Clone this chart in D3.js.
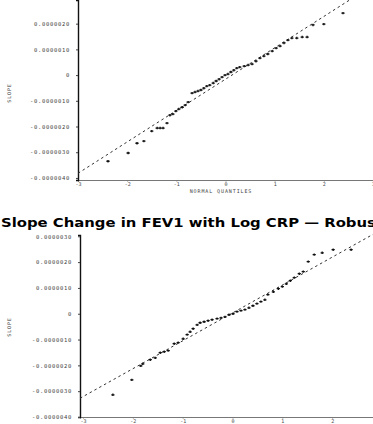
<!DOCTYPE html>
<html>
<head>
<meta charset="utf-8">
<script src="https://cdn.jsdelivr.net/npm/d3@7"></script>
<style>
  body { margin: 0; background: #fff; }
  svg { display: block; }
  .tick text { font-family: "DejaVu Sans Mono", monospace; }
</style>
</head>
<body>
<div id="chart"></div>
<script>
var WIDTH = 373
var HEIGHT = 424

// title between the two panels
var titleText = 'Slope Change in FEV1 with Log CRP \u2014 Robust';

// top panel: normal quantile vs slope (units of 1e-6)
var topQx = [-2.39, -1.98, -1.80, -1.66, -1.50, -1.39, -1.33, -1.27, -1.19, -1.13, -1.07, -1.01,
    -0.95, -0.88, -0.82, -0.76, -0.68, -0.62, -0.56, -0.50, -0.44, -0.38, -0.32, -0.25, -0.19,
    -0.13, -0.07, -0.01, 0.05, 0.11, 0.17, 0.23, 0.29, 0.38, 0.46, 0.54, 0.62, 0.70, 0.78, 0.86,
    0.95, 1.03, 1.11, 1.19, 1.27, 1.35, 1.45, 1.56, 1.66, 1.78, 2.00, 2.39];
var topQy = [-3.35, -3.03, -2.65, -2.57, -2.18, -2.06, -2.06, -2.06, -1.87, -1.56, -1.52, -1.40,
    -1.32, -1.25, -1.17, -1.05, -0.70, -0.66, -0.62, -0.58, -0.51, -0.43, -0.39, -0.31, -0.23,
    -0.16, -0.08, 0.00, 0.04, 0.12, 0.19, 0.27, 0.31, 0.35, 0.39, 0.43, 0.54, 0.66, 0.74, 0.82,
    0.93, 1.05, 1.13, 1.25, 1.36, 1.44, 1.44, 1.48, 1.48, 1.95, 1.98, 2.41];
var topLine = [-0.16, 1.22];   // intercept, slope
var topYTicks = [2, 1, 0, -1, -2, -3, -4];
var topYLabels = ['0.0000020', '0.0000010', '0', '-0.0000010', '-0.0000020', '-0.0000030', '-0.0000040'];

// bottom panel: robust fit
var botQx = [-2.40, -2.02, -1.84, -1.80, -1.65, -1.55, -1.45, -1.37, -1.29, -1.17, -1.09, -0.99,
    -0.91, -0.85, -0.79, -0.71, -0.65, -0.57, -0.49, -0.41, -0.31, -0.23, -0.15, -0.07, 0.01,
    0.09, 0.17, 0.25, 0.33, 0.41, 0.49, 0.57, 0.65, 0.71, 0.82, 0.92, 1.00, 1.08, 1.16, 1.24,
    1.34, 1.42, 1.52, 1.64, 1.80, 2.02, 2.38];
var botQy = [-3.14, -2.56, -2.02, -1.94, -1.78, -1.71, -1.51, -1.47, -1.43, -1.16, -1.12, -0.97,
    -0.81, -0.70, -0.58, -0.43, -0.35, -0.31, -0.27, -0.23, -0.19, -0.16, -0.12, -0.04, 0.00,
    0.08, 0.12, 0.16, 0.23, 0.31, 0.39, 0.47, 0.54, 0.74, 0.85, 0.97, 1.05, 1.16, 1.28, 1.40,
    1.55, 1.63, 2.02, 2.29, 2.36, 2.48, 2.48];
var botLine = [0.03, 1.08];
var botYTicks = [3, 2, 1, 0, -1, -2, -3, -4];
var botYLabels = ['0.0000030', '0.0000020', '0.0000010', '0', '-0.0000010', '-0.0000020', '-0.0000030', '-0.0000040'];

var xTicks = [-3, -2, -1, 0, 1, 2, 3];
var xLabels = ['-3', '-2', '-1', '0', '1', '2', '3'];

const svg = d3.select('#chart').append('svg')
    .attr('width', WIDTH)
    .attr('height', HEIGHT);

function drawPanel(opt) {
    var g = svg.append('g');
    var x = d3.scaleLinear().domain(opt.xDomain).range(opt.xRange);
    var y = d3.scaleLinear().domain(opt.yDomain).range(opt.yRange);

    g.append('clipPath').attr('id', opt.id + 'clip')
        .append('rect')
        .attr('x', opt.xRange[0]).attr('y', opt.yRange[1] - 6)
        .attr('width', WIDTH - opt.xRange[0]).attr('height', opt.yRange[0] - opt.yRange[1] + 6);

    // x axis
    var xAxis = g.append('g')
        .attr('transform', 'translate(0,' + opt.yRange[0] + ')')
        .call(d3.axisBottom(x).tickValues(xTicks)
            .tickFormat((d, i) => xLabels[i]).tickSize(1.5).tickPadding(1));
    xAxis.select('.domain').attr('stroke', '#777').attr('stroke-width', 1.2);
    xAxis.selectAll('.tick line').attr('stroke', '#777');
    xAxis.selectAll('.tick text').attr('font-size', 5).attr('fill', '#444');

    // y axis
    var yAxis = g.append('g')
        .attr('transform', 'translate(' + opt.xRange[0] + ',0)')
        .call(d3.axisLeft(y).tickValues(opt.yTicks)
            .tickFormat((d, i) => opt.yLabels[i]).tickSize(2).tickPadding(6));
    yAxis.select('.domain').attr('stroke', '#111').attr('stroke-width', 1.4);
    yAxis.selectAll('.tick line').attr('stroke', '#444');
    yAxis.selectAll('.tick text').attr('font-size', 5.5).attr('fill', '#444')
        .attr('letter-spacing', 0.7);

    // axis titles
    if (opt.xTitle) {
        g.append('text')
            .attr('x', 221).attr('y', opt.yRange[0] + 13)
            .attr('text-anchor', 'middle')
            .attr('font-family', 'DejaVu Sans Mono, monospace')
            .attr('font-size', 5).attr('letter-spacing', 0.9).attr('fill', '#444')
            .text('NORMAL QUANTILES');
    }
    g.append('text')
        .attr('transform', 'translate(' + 11 + ',' + opt.yLabelY + ') rotate(-90)')
        .attr('text-anchor', 'middle')
        .attr('font-family', 'DejaVu Sans Mono, monospace')
        .attr('font-size', 5).attr('letter-spacing', 0.9).attr('fill', '#444')
        .text('SLOPE');

    // reference line
    var plot = g.append('g').attr('clip-path', 'url(#' + opt.id + 'clip)');
    plot.append('line')
        .attr('x1', x(opt.xDomain[0])).attr('y1', y(opt.line[0] + opt.line[1] * opt.xDomain[0]))
        .attr('x2', x(3.2)).attr('y2', y(opt.line[0] + opt.line[1] * 3.2))
        .attr('stroke', '#333').attr('stroke-width', 1)
        .attr('stroke-dasharray', '2.5,3');

    // points
    var pts = opt.qx.map((d, i) => ({ qx: d, qy: opt.qy[i] }));
    plot.selectAll('.pt')
        .data(pts)
        .enter()
        .append('path')
        .attr('class', 'pt')
        .attr('d', d => {
            var cx = x(d.qx), cy = y(d.qy);
            return 'M' + (cx - 1.6) + ',' + cy + 'H' + (cx + 1.6) + 'M' + cx + ',' + (cy - 1.2) + 'V' + (cy + 1.2);
        })
        .attr('stroke', '#111')
        .attr('stroke-width', 1.3);
}

drawPanel({
    id: 'top',
    xDomain: [-3, 3], xRange: [78, 373],
    yDomain: [-4.08, 2.92], yRange: [180, 0],
    yTicks: topYTicks, yLabels: topYLabels,
    line: topLine, qx: topQx, qy: topQy,
    yLabelY: 93, xTitle: true
});

drawPanel({
    id: 'bot',
    xDomain: [-3.06, 3], xRange: [80, 382],
    yDomain: [-4.0, 3.05], yRange: [417, 235],
    yTicks: botYTicks, yLabels: botYLabels,
    line: botLine, qx: botQx, qy: botQy,
    yLabelY: 327, xTitle: false
});

// title
svg.append('text')
    .attr('x', 1).attr('y', 227)
    .attr('font-family', 'DejaVu Sans, sans-serif')
    .attr('font-weight', 'bold')
    .attr('font-size', 11.5)
    .attr('textLength', 382)
    .attr('lengthAdjust', 'spacingAndGlyphs')
    .attr('fill', '#000')
    .text(titleText);
</script>
</body>
</html>
